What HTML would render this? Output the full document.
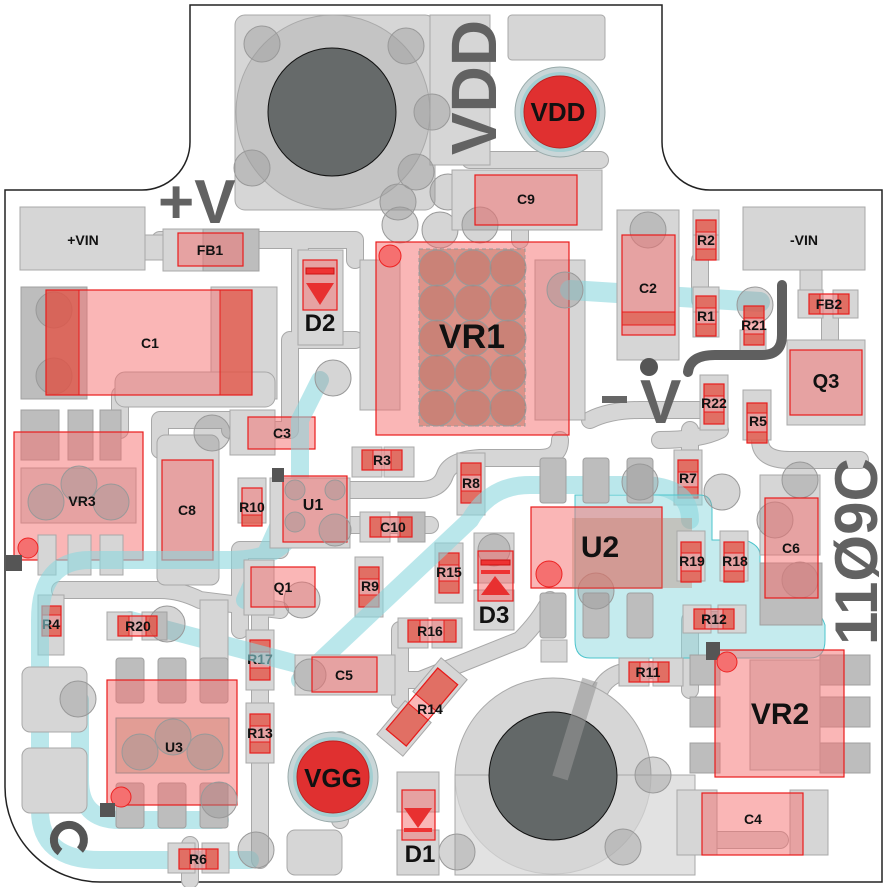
<!DOCTYPE html>
<html><head><meta charset="utf-8"><style>
html,body{margin:0;padding:0;background:#fff}
svg{display:block}
.p{fill:#d6d6d6;stroke:#a8a8a8;stroke-width:1}
.d{fill:#bdbdbd;stroke:#a0a0a0;stroke-width:1}
.v{fill:rgba(150,150,150,0.4);stroke:#999;stroke-width:1}
.r{fill:rgba(245,110,110,0.5);stroke:#e81c1c;stroke-width:1.2}
.rd{fill:rgba(220,70,50,0.55);stroke:#e81c1c;stroke-width:1}
.t{font-family:"Liberation Sans",sans-serif;font-weight:bold;font-size:14px;fill:#111;text-anchor:middle}
.to{fill:none;stroke:#a8a8a8;stroke-linecap:round;stroke-linejoin:round}
.ti{fill:none;stroke:#d6d6d6;stroke-linecap:round;stroke-linejoin:round}
.cy{fill:rgba(140,215,222,0.5);stroke:#4cc4cc;stroke-width:1}
.cl{fill:none;stroke:rgba(140,215,222,0.6);stroke-linecap:round;stroke-linejoin:round}
.big{font-family:"Liberation Sans",sans-serif;font-weight:bold;fill:#626262}
</style></head><body>
<svg width="888" height="887" viewBox="0 0 888 887" xmlns="http://www.w3.org/2000/svg">
<!-- board outline -->
<path d="M190,5 H662 V142 A48,48 0 0 0 710,190 H882 V882 H100 A95,95 0 0 1 5,787 V190 H142 A48,48 0 0 0 190,142 Z" fill="#fff" stroke="#222" stroke-width="1.5"/>

<!-- traces -->
<g>
<path class="to" stroke-width="18" d="M160,240 H355 V260 M300,250 V340 H355 M290,340 V430 H230 M160,450 V420 H230 M120,395 V430 M330,490 H420 Q440,490 445,475 T480,458 H540 Q560,458 560,440 M350,525 H430 M60,590 H160 Q180,590 200,600 L280,610 M280,550 H240 V630 M260,610 V860 M190,845 V880 M400,630 V700 M380,680 H420 L520,640 Q540,620 550,600 M600,690 Q610,670 640,670 H690 M690,690 V620 H720 M780,840 H700 M520,180 V240 M590,420 Q610,410 640,410 H700 M690,430 V460 M700,260 V300 M720,430 Q700,440 660,440 M760,440 Q760,460 790,460 H860 M830,310 V350 M340,740 V820 M470,160 H600"/>
<path class="ti" stroke-width="16" d="M160,240 H355 V260 M300,250 V340 H355 M290,340 V430 H230 M160,450 V420 H230 M120,395 V430 M330,490 H420 Q440,490 445,475 T480,458 H540 Q560,458 560,440 M350,525 H430 M60,590 H160 Q180,590 200,600 L280,610 M280,550 H240 V630 M260,610 V860 M190,845 V880 M400,630 V700 M380,680 H420 L520,640 Q540,620 550,600 M600,690 Q610,670 640,670 H690 M690,690 V620 H720 M780,840 H700 M520,180 V240 M590,420 Q610,410 640,410 H700 M690,430 V460 M700,260 V300 M720,430 Q700,440 660,440 M760,440 Q760,460 790,460 H860 M830,310 V350 M340,740 V820 M470,160 H600"/>
</g>

<!-- top big pad -->
<rect class="p" x="235" y="15" width="200" height="195" rx="10"/>
<rect class="p" x="430" y="15" width="60" height="150"/>
<circle cx="333" cy="112" r="97" fill="#c4c4c4" stroke="#aaa"/>
<circle class="v" cx="262" cy="44" r="18"/><circle class="v" cx="406" cy="46" r="18"/>
<circle class="v" cx="252" cy="168" r="18"/><circle class="v" cx="416" cy="172" r="18"/>
<circle class="v" cx="432" cy="112" r="18"/><circle class="v" cx="398" cy="202" r="18"/>
<circle class="v" cx="448" cy="192" r="18"/><circle class="v" cx="440" cy="230" r="18"/>
<circle cx="332" cy="112" r="64" fill="#666a6a" stroke="#111"/>
<rect class="p" x="508" y="15" width="97" height="45" rx="4"/>
<rect class="p" x="452" y="170" width="150" height="60"/>
<circle class="v" cx="400" cy="225" r="18"/><circle class="v" cx="480" cy="225" r="18"/>
<!-- VDD -->
<circle cx="560" cy="112" r="45" fill="#c9d6d8" stroke="#9aa"/>
<circle cx="560" cy="112" r="40" fill="#7ec7cc" opacity="0.5"/>
<circle cx="560" cy="112" r="36" fill="#e03030" stroke="#c02020"/>
<text class="t" x="558" y="121" style="font-size:26px">VDD</text>
<text class="big" transform="translate(496,155) rotate(-90)" style="font-size:64px">VDD</text>
<text class="big" x="158" y="223" style="font-size:62px">+V</text>

<!-- +VIN / FB1 -->
<rect class="p" x="20" y="207" width="125" height="63"/>
<rect class="p" x="145" y="235" width="20" height="25"/>
<text class="t" x="83" y="245">+VIN</text>
<rect class="p" x="163" y="229" width="40" height="42"/>
<rect class="d" x="203" y="229" width="56" height="42"/>
<rect class="r" x="178" y="233" width="65" height="33"/>
<text class="t" x="210" y="255">FB1</text>

<!-- C1 -->
<rect class="d" x="21" y="287" width="66" height="112"/>
<rect class="p" x="211" y="287" width="66" height="112"/>
<rect class="p" x="115" y="372" width="160" height="35" rx="10"/>
<circle class="v" cx="54" cy="310" r="18"/><circle class="v" cx="54" cy="376" r="18"/>
<rect class="r" x="46" y="290" width="206" height="105"/>
<rect class="rd" x="46" y="290" width="33" height="105"/>
<rect class="rd" x="220" y="290" width="32" height="105"/>
<text class="t" x="150" y="348">C1</text>

<!-- D2 -->
<rect class="p" x="298" y="250" width="45" height="95"/>
<rect class="r" x="303" y="260" width="34" height="50"/>
<rect x="306" y="268" width="28" height="6" fill="#e33" stroke="#c11"/>
<path d="M306,283 H334 L320,305 Z" fill="#e83030"/>
<text class="t" x="320" y="331" style="font-size:24px">D2</text>

<!-- VR1 -->
<rect class="p" x="360" y="260" width="40" height="150"/>
<rect class="p" x="535" y="260" width="50" height="160"/>
<rect class="r" x="376" y="242" width="193" height="193"/>
<rect x="419" y="249" width="106" height="177" fill="rgba(190,110,90,0.5)" stroke="#999" stroke-dasharray="4,3"/>
<g class="v" style="fill:rgba(170,100,90,0.35)">
<circle cx="437" cy="268" r="18"/><circle cx="473" cy="268" r="18"/><circle cx="508" cy="268" r="18"/>
<circle cx="437" cy="303" r="18"/><circle cx="473" cy="303" r="18"/><circle cx="508" cy="303" r="18"/>
<circle cx="437" cy="338" r="18"/><circle cx="473" cy="338" r="18"/><circle cx="508" cy="338" r="18"/>
<circle cx="437" cy="373" r="18"/><circle cx="473" cy="373" r="18"/><circle cx="508" cy="373" r="18"/>
<circle cx="437" cy="408" r="18"/><circle cx="473" cy="408" r="18"/><circle cx="508" cy="408" r="18"/>
</g>
<circle cx="390" cy="256" r="11" fill="#f57070" stroke="#e22"/>
<text class="t" x="472" y="348" style="font-size:34px">VR1</text>
<!-- C9 -->
<rect class="r" x="475" y="175" width="102" height="50"/>
<text class="t" x="526" y="204">C9</text>

<!-- cyan trace top -->
<path class="cl" stroke-width="20" d="M570,290 L760,302"/>
<circle class="v" cx="565" cy="290" r="18"/><circle class="v" cx="755" cy="305" r="18"/>

<!-- C2 -->
<rect class="p" x="617" y="210" width="62" height="150"/>
<circle class="v" cx="648" cy="230" r="18"/>
<rect class="r" x="622" y="235" width="53" height="100"/>
<rect class="rd" x="622" y="312" width="53" height="13"/>
<text class="t" x="648" y="293">C2</text>

<!-- -VIN -->
<rect class="p" x="743" y="207" width="122" height="63"/>
<text class="t" x="804" y="245">-VIN</text>
<rect class="p" x="800" y="270" width="22" height="25"/>

<!-- vertical resistors -->
<g id="vres">
<!-- R2 --><rect class="p" x="693" y="210" width="26" height="25"/><rect class="p" x="693" y="235" width="26" height="25"/><rect class="r" x="696" y="220" width="20" height="40"/><rect class="rd" x="696" y="220" width="20" height="12"/><rect class="rd" x="696" y="249" width="20" height="11"/>
<!-- R1 --><rect class="p" x="693" y="287" width="26" height="25"/><rect class="p" x="693" y="312" width="26" height="25"/><rect class="r" x="696" y="296" width="20" height="40"/><rect class="rd" x="696" y="296" width="20" height="12"/><rect class="rd" x="696" y="324" width="20" height="12"/>
<!-- R21 --><rect class="p" x="740" y="330" width="26" height="25"/><rect class="r" x="744" y="306" width="20" height="39"/><rect class="rd" x="744" y="306" width="20" height="12"/><rect class="rd" x="744" y="334" width="20" height="11"/>
<!-- R22 --><rect class="p" x="700" y="375" width="28" height="55"/><rect class="r" x="704" y="384" width="20" height="40"/><rect class="rd" x="704" y="384" width="20" height="12"/><rect class="rd" x="704" y="412" width="20" height="12"/>
<!-- R5 --><rect class="p" x="743" y="390" width="28" height="50"/><rect class="r" x="747" y="403" width="20" height="40"/><rect class="rd" x="747" y="403" width="20" height="10"/><rect class="rd" x="747" y="432" width="20" height="11"/>
<!-- R7 --><rect class="p" x="674" y="450" width="28" height="55"/><rect class="r" x="678" y="460" width="20" height="38"/><rect class="rd" x="678" y="460" width="20" height="12"/><rect class="rd" x="678" y="487" width="20" height="11"/>
<!-- R8 --><rect class="p" x="457" y="453" width="28" height="62"/><rect class="r" x="461" y="463" width="20" height="40"/><rect class="rd" x="461" y="463" width="20" height="12"/><rect class="rd" x="461" y="491" width="20" height="12"/>
<!-- R10 --><rect class="p" x="238" y="478" width="28" height="45"/><rect class="r" x="242" y="488" width="20" height="38"/><rect class="rd" x="242" y="515" width="20" height="11"/>
<!-- R9 --><rect class="p" x="355" y="557" width="28" height="60"/><rect class="r" x="359" y="567" width="20" height="40"/><rect class="rd" x="359" y="567" width="20" height="12"/><rect class="rd" x="359" y="595" width="20" height="12"/>
<!-- R15 --><rect class="p" x="435" y="543" width="28" height="60"/><rect class="r" x="439" y="553" width="20" height="40"/><rect class="rd" x="439" y="553" width="20" height="12"/><rect class="rd" x="439" y="581" width="20" height="12"/>
<!-- R4 --><rect class="p" x="38" y="595" width="26" height="60"/><rect class="r" x="42" y="606" width="19" height="30"/><rect class="rd" x="42" y="606" width="19" height="9"/><rect class="rd" x="42" y="626" width="19" height="10"/>
<!-- R17 --><rect class="p" x="246" y="630" width="28" height="60"/><rect class="r" x="250" y="640" width="20" height="40"/><rect class="rd" x="250" y="640" width="20" height="12"/><rect class="rd" x="250" y="668" width="20" height="12"/>
<!-- R13 --><rect class="p" x="246" y="703" width="28" height="60"/><rect class="r" x="250" y="714" width="20" height="39"/><rect class="rd" x="250" y="714" width="20" height="12"/><rect class="rd" x="250" y="742" width="20" height="11"/>
</g>
<text class="t" x="706" y="245">R2</text>
<text class="t" x="706" y="321">R1</text>
<text class="t" x="754" y="330">R21</text>
<text class="t" x="714" y="408">R22</text>
<text class="t" x="758" y="426">R5</text>
<text class="t" x="688" y="483">R7</text>
<text class="t" x="471" y="488">R8</text>
<text class="t" x="252" y="512">R10</text>
<text class="t" x="370" y="591">R9</text>
<text class="t" x="449" y="577">R15</text>
<text class="t" x="51" y="629">R4</text>
<text class="t" x="260" y="664">R17</text>
<text class="t" x="260" y="738">R13</text>

<!-- FB2 -->
<rect class="p" x="798" y="290" width="25" height="28"/><rect class="p" x="833" y="290" width="25" height="28"/>
<rect class="r" x="809" y="294" width="40" height="20"/><rect class="rd" x="809" y="294" width="11" height="20"/><rect class="rd" x="838" y="294" width="11" height="20"/>
<text class="t" x="829" y="309">FB2</text>
<!-- Q3 -->
<rect class="p" x="787" y="340" width="78" height="85"/>
<rect class="r" x="790" y="350" width="72" height="65"/>
<text class="t" x="826" y="388" style="font-size:20px">Q3</text>

<!-- -V glyph and hook -->
<rect x="602" y="396" width="25" height="7" fill="#666"/>
<text class="big" x="640" y="423" style="font-size:62px">V</text>
<circle cx="649" cy="367" r="9" fill="#555"/>
<path d="M782,285 V335 Q782,355 762,355 H715 Q690,355 688,372" fill="none" stroke="#5f5f5f" stroke-width="10" stroke-linecap="round"/>

<!-- VR3 -->
<rect class="d" x="21" y="410" width="38" height="50"/><rect class="d" x="68" y="410" width="25" height="50"/><rect class="d" x="100" y="410" width="21" height="50"/>
<rect class="p" x="21" y="468" width="115" height="55"/>
<rect class="r" x="14" y="432" width="129" height="128"/>
<circle class="v" cx="46" cy="502" r="18"/><circle class="v" cx="79" cy="484" r="18"/><circle class="v" cx="111" cy="502" r="18"/>
<rect class="p" x="38" y="535" width="18" height="40"/><rect class="p" x="68" y="535" width="23" height="40"/><rect class="p" x="100" y="535" width="23" height="40"/>
<circle cx="28" cy="548" r="10" fill="#f57070" stroke="#e22"/>
<rect x="6" y="555" width="16" height="16" fill="#555"/>
<text class="t" x="82" y="506">VR3</text>

<!-- C8 / C3 area -->
<rect class="p" x="157" y="435" width="62" height="150" rx="8"/>
<circle class="v" cx="212" cy="433" r="18"/>
<rect class="p" x="230" y="410" width="45" height="45"/>
<rect class="r" x="162" y="460" width="51" height="100"/>
<text class="t" x="187" y="515">C8</text>
<rect class="r" x="248" y="417" width="67" height="32"/>
<text class="t" x="282" y="438">C3</text>

<!-- cyan left big loop -->
<path class="cl" stroke-width="18" d="M320,380 L300,420 V500 Q300,560 230,560 H90 Q40,560 40,620 V810 Q40,860 100,860 H250 M290,500 L245,600 M130,620 L320,670 M80,700 V780 Q80,820 120,820 H220"/>
<circle class="v" cx="333" cy="378" r="18"/>
<circle class="v" cx="256" cy="850" r="18"/>

<!-- U1 -->
<rect class="p" x="270" y="478" width="80" height="70"/>
<rect class="r" x="283" y="476" width="64" height="66"/>
<circle class="v" cx="295" cy="490" r="10"/><circle class="v" cx="335" cy="490" r="10"/><circle class="v" cx="295" cy="522" r="10"/><circle class="v" cx="335" cy="530" r="16"/>
<rect x="272" y="468" width="12" height="14" fill="#555"/>
<text class="t" x="313" y="510" style="font-size:16px">U1</text>
<!-- C10 -->
<rect class="p" x="360" y="512" width="30" height="30"/><rect class="d" x="398" y="512" width="27" height="30"/>
<rect class="r" x="370" y="517" width="42" height="20"/><rect class="rd" x="370" y="517" width="11" height="20"/><rect class="rd" x="400" y="517" width="12" height="20"/>
<text class="t" x="393" y="532">C10</text>
<!-- R3 -->
<rect class="p" x="352" y="447" width="30" height="30"/><rect class="p" x="384" y="447" width="30" height="30"/>
<rect class="r" x="362" y="450" width="40" height="20"/><rect class="rd" x="362" y="450" width="11" height="20"/><rect class="rd" x="391" y="450" width="11" height="20"/>
<text class="t" x="382" y="465">R3</text>

<!-- Q1 -->
<rect class="p" x="244" y="560" width="30" height="55"/>
<circle class="v" cx="302" cy="600" r="18"/>
<rect class="r" x="251" y="567" width="64" height="40"/>
<text class="t" x="283" y="592">Q1</text>

<!-- cyan diagonal center -->
<path class="cl" stroke-width="18" d="M300,680 L470,520 Q490,485 530,485 H640 Q690,485 690,520"/>
<!-- cyan region around U2 -->
<path class="cy" d="M575,495 H700 Q712,495 712,510 V540 H745 Q760,545 760,555 V610 H810 Q820,610 825,625 V640 Q825,658 810,658 H590 Q575,658 575,640 Z"/>

<!-- D3 -->
<rect class="p" x="474" y="533" width="40" height="50"/><rect class="p" x="474" y="590" width="40" height="40"/>
<circle class="v" cx="494" cy="550" r="16"/>
<rect class="r" x="478" y="551" width="35" height="50"/>
<rect x="481" y="560" width="29" height="5" fill="#e33" stroke="#c11"/>
<rect x="481" y="570" width="29" height="4" fill="#e33"/>
<path d="M481,595 L495,576 L510,595 Z" fill="#e83030"/>
<text class="t" x="494" y="623" style="font-size:24px">D3</text>
<!-- R16 -->
<rect class="p" x="398" y="618" width="30" height="30"/><rect class="p" x="432" y="618" width="30" height="30"/>
<rect class="r" x="408" y="620" width="48" height="22"/><rect class="rd" x="408" y="620" width="12" height="22"/><rect class="rd" x="444" y="620" width="12" height="22"/>
<text class="t" x="430" y="636">R16</text>

<!-- U2 pads -->
<rect class="d" x="540" y="458" width="26" height="45" rx="3"/><rect class="d" x="583" y="458" width="26" height="45" rx="3"/><rect class="d" x="627" y="458" width="26" height="45" rx="3"/>
<rect class="d" x="540" y="593" width="26" height="45" rx="3"/><rect class="d" x="583" y="593" width="26" height="45" rx="3"/><rect class="d" x="627" y="593" width="26" height="45" rx="3"/>
<rect class="p" x="541" y="640" width="26" height="22"/>
<circle class="v" cx="640" cy="482" r="18"/><circle class="v" cx="722" cy="492" r="18"/><circle class="v" cx="596" cy="591" r="18"/>
<rect class="r" x="531" y="507" width="131" height="81"/>
<rect x="572" y="518" width="120" height="70" fill="rgba(190,120,100,0.35)"/>
<circle cx="549" cy="574" r="13" fill="#f57070" stroke="#e22"/>
<text class="t" x="600" y="557" style="font-size:30px">U2</text>
<!-- R19/R18 -->
<rect class="p" x="677" y="531" width="28" height="50"/><rect class="p" x="720" y="531" width="28" height="50"/>
<rect class="r" x="681" y="542" width="20" height="40"/><rect class="rd" x="681" y="542" width="20" height="11"/><rect class="rd" x="681" y="571" width="20" height="11"/>
<rect class="r" x="724" y="542" width="20" height="40"/><rect class="rd" x="724" y="542" width="20" height="11"/><rect class="rd" x="724" y="571" width="20" height="11"/>
<text class="t" x="692" y="566">R19</text>
<text class="t" x="735" y="566">R18</text>
<!-- C6 -->
<rect class="p" x="760" y="475" width="60" height="80"/><rect class="d" x="760" y="563" width="62" height="62"/>
<circle class="v" cx="800" cy="480" r="18"/><circle class="v" cx="775" cy="520" r="18"/><circle class="v" cx="800" cy="580" r="18"/>
<rect class="r" x="765" y="498" width="53" height="100"/>
<text class="t" x="791" y="553">C6</text>
<!-- R12 -->
<rect class="p" x="683" y="605" width="28" height="28"/><rect class="p" x="718" y="605" width="28" height="28"/>
<rect class="r" x="694" y="609" width="40" height="20"/><rect class="rd" x="694" y="609" width="11" height="20"/><rect class="rd" x="723" y="609" width="11" height="20"/>
<text class="t" x="714" y="624">R12</text>
<!-- R11 -->
<rect class="p" x="619" y="658" width="30" height="28"/><rect class="p" x="653" y="658" width="30" height="28"/>
<rect class="r" x="629" y="662" width="40" height="20"/><rect class="rd" x="629" y="662" width="11" height="20"/><rect class="rd" x="658" y="662" width="11" height="20"/>
<text class="t" x="648" y="677">R11</text>

<!-- 11Ø9C -->
<text class="big" transform="translate(877,645) rotate(-90)" style="font-size:60px">11Ø9C</text>

<!-- VR2 -->
<rect class="d" x="690" y="655" width="30" height="30"/><rect class="d" x="690" y="697" width="30" height="30"/><rect class="d" x="690" y="743" width="30" height="30"/>
<rect class="d" x="820" y="655" width="50" height="30"/><rect class="d" x="820" y="697" width="50" height="30"/><rect class="d" x="820" y="743" width="50" height="30"/>
<rect class="p" x="750" y="660" width="70" height="110"/>
<rect class="r" x="715" y="650" width="129" height="127"/>
<rect x="706" y="642" width="14" height="18" fill="#555"/>
<circle cx="727" cy="662" r="10" fill="#f57070" stroke="#e22"/>
<text class="t" x="780" y="724" style="font-size:30px">VR2</text>

<!-- bottom big pad -->
<circle cx="553" cy="776" r="98" fill="#d6d6d6" stroke="#aaa"/>
<rect class="p" x="455" y="775" width="240" height="100" style="fill:rgba(214,214,214,0.7)"/>
<circle class="v" cx="457" cy="852" r="18"/><circle class="v" cx="623" cy="847" r="18"/><circle class="v" cx="653" cy="775" r="18"/>
<circle cx="553" cy="776" r="64" fill="#636868" stroke="#111"/>
<path d="M590,680 L560,778" stroke="rgba(150,150,150,0.6)" stroke-width="16" fill="none"/>
<!-- C4 -->
<rect class="p" x="677" y="790" width="40" height="65"/><rect class="p" x="790" y="790" width="38" height="65"/>
<rect class="r" x="702" y="793" width="101" height="62"/>
<text class="t" x="753" y="824">C4</text>

<!-- R14 -->
<g transform="translate(422,707) rotate(-50)">
<rect class="p" x="-50" y="-17" width="44" height="34"/><rect class="p" x="6" y="-17" width="44" height="34"/>
<rect class="r" x="-40" y="-13" width="80" height="26"/><rect class="rd" x="-40" y="-13" width="34" height="26"/><rect class="rd" x="6" y="-13" width="34" height="26"/>
</g>
<text class="t" x="430" y="714">R14</text>
<!-- C5 -->
<rect class="p" x="295" y="655" width="100" height="40"/>
<circle class="v" cx="310" cy="675" r="16"/>
<rect class="r" x="312" y="657" width="65" height="35"/>
<text class="t" x="344" y="680">C5</text>

<!-- D1 -->
<rect class="p" x="397" y="772" width="42" height="40"/><rect class="p" x="397" y="830" width="42" height="45"/>
<rect class="r" x="402" y="790" width="33" height="50"/>
<path d="M404,808 H432 L418,828 Z" fill="#e83030"/>
<rect x="404" y="828" width="28" height="4" fill="#e33"/>
<text class="t" x="420" y="862" style="font-size:24px">D1</text>

<!-- VGG -->
<rect class="p" x="287" y="830" width="55" height="45" rx="8"/>
<circle cx="333" cy="777" r="45" fill="#c9d6d8" stroke="#9aa"/>
<circle cx="333" cy="777" r="40" fill="#7ec7cc" opacity="0.5"/>
<circle cx="333" cy="777" r="36" fill="#e03030" stroke="#c02020"/>
<text class="t" x="333" y="787" style="font-size:26px">VGG</text>

<!-- U3 -->
<rect class="p" x="200" y="600" width="28" height="80"/>
<rect class="d" x="116" y="658" width="28" height="45" rx="3"/><rect class="d" x="158" y="658" width="28" height="45" rx="3"/><rect class="d" x="200" y="658" width="28" height="45" rx="3"/>
<rect class="d" x="116" y="783" width="28" height="45" rx="3"/><rect class="d" x="158" y="783" width="28" height="45" rx="3"/><rect class="d" x="200" y="783" width="28" height="45" rx="3"/>
<rect class="p" x="22" y="667" width="65" height="65" rx="8"/><rect class="p" x="22" y="748" width="65" height="65" rx="8"/>
<circle class="v" cx="78" cy="699" r="18"/>
<rect class="r" x="107" y="680" width="130" height="125"/>
<rect x="116" y="718" width="113" height="55" fill="rgba(190,120,100,0.4)" stroke="#a88"/>
<circle class="v" cx="173" cy="737" r="18"/><circle class="v" cx="140" cy="752" r="18"/><circle class="v" cx="205" cy="752" r="18"/>
<circle class="v" cx="219" cy="800" r="18"/>
<circle cx="121" cy="797" r="10" fill="#f57070" stroke="#e22"/>
<rect x="100" y="803" width="15" height="14" fill="#555"/>
<text class="t" x="174" y="752">U3</text>
<!-- R20 -->
<rect class="p" x="107" y="612" width="25" height="28"/><rect class="p" x="142" y="612" width="25" height="28"/>
<circle class="v" cx="167" cy="624" r="18"/>
<rect class="r" x="118" y="616" width="39" height="20"/><rect class="rd" x="118" y="616" width="11" height="20"/><rect class="rd" x="146" y="616" width="11" height="20"/>
<text class="t" x="138" y="631">R20</text>
<!-- R6 -->
<rect class="p" x="168" y="843" width="27" height="30"/><rect class="p" x="202" y="843" width="27" height="30"/>
<rect class="r" x="179" y="849" width="39" height="20"/><rect class="rd" x="179" y="849" width="11" height="20"/><rect class="rd" x="206" y="849" width="12" height="20"/>
<text class="t" x="198" y="864">R6</text>
<!-- C hook bottom-left -->
<path d="M60,852 A15,15 0 1 1 80,850" fill="none" stroke="#555" stroke-width="8"/>
</svg>
</body></html>
